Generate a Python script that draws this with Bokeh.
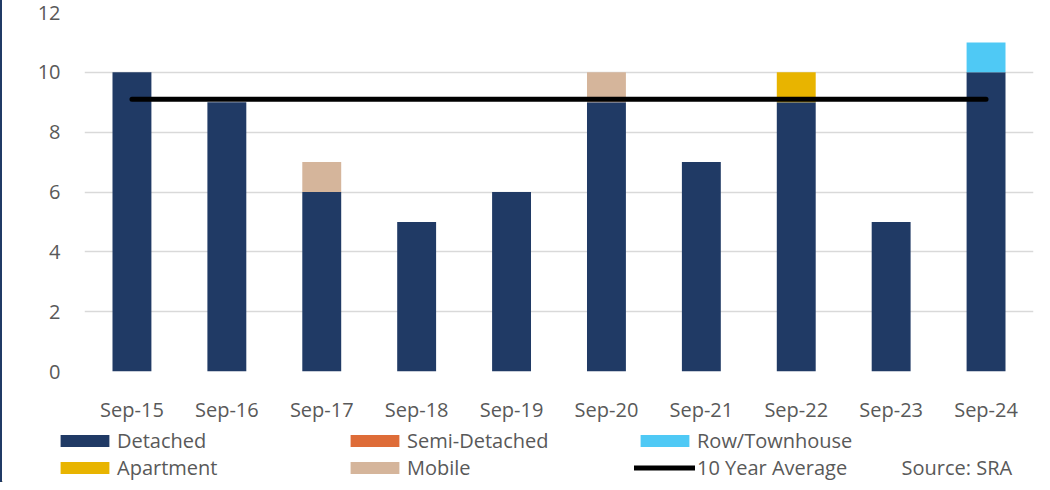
from bokeh.plotting import figure
from bokeh.models import Range1d, Legend, LegendItem, Label, FactorRange
from bokeh.layouts import column
from bokeh.embed import file_html
from bokeh.resources import INLINE

categories = ["Sep-15", "Sep-16", "Sep-17", "Sep-18", "Sep-19",
              "Sep-20", "Sep-21", "Sep-22", "Sep-23", "Sep-24"]
detached = [10, 9, 6, 5, 6, 9, 7, 9, 5, 10]
semi_detached = [0, 0, 0, 0, 0, 0, 0, 0, 0, 0]
row_townhouse = [0, 0, 0, 0, 0, 0, 0, 0, 0, 1]
apartment = [0, 0, 0, 0, 0, 0, 0, 1, 0, 0]
mobile = [0, 0, 1, 0, 0, 1, 0, 0, 0, 0]
ten_year_average = [9.1] * len(categories)
y_ticks = [0, 2, 4, 6, 8, 10, 12]

series = ["Detached", "Semi-Detached", "Row/Townhouse", "Apartment", "Mobile"]
colors = ["#203A65", "#DE6C38", "#4FC9F5", "#E8B400", "#D5B59B"]
avg_label = "10 Year Average"
source_note = "Source: SRA"

data = {"cat": categories, "Detached": detached, "Semi-Detached": semi_detached,
        "Row/Townhouse": row_townhouse, "Apartment": apartment, "Mobile": mobile,
        "avg": ten_year_average}

FONT = "Open Sans"
TXT = "#595959"
W = 1040

# ---- main chart ----
p = figure(width=W, height=425, x_range=FactorRange(*categories),
           y_range=Range1d(0, 12), output_backend="svg", toolbar_location=None,
           min_border_left=82, min_border_right=W - 1031, min_border_top=12,
           min_border_bottom=45, frame_align=False)
p.outline_line_color = None

bars = p.vbar_stack(series, x="cat", width=0.41, color=colors, source=data,
                    line_color=None)
avg = p.line(x="cat", y="avg", source=data, line_color="black", line_width=5,
             line_cap="round")

p.xgrid.grid_line_color = None
p.ygrid.grid_line_color = "#D9D9D9"
p.ygrid.grid_line_width = 1.5
p.yaxis.ticker = y_ticks

for ax in (p.xaxis, p.yaxis):
    ax.axis_line_color = None
    ax.major_tick_line_color = None
    ax.minor_tick_line_color = None
    ax.major_label_text_font = FONT
    ax.major_label_text_font_size = "20px"
    ax.major_label_text_color = TXT
p.yaxis.major_label_standoff = 18
p.xaxis.major_label_standoff = 18

# ---- legend strip (swatch renderers sit off-screen, only their legend shows) ----
H2 = 57
lg = figure(width=W, height=H2, x_range=Range1d(0, W), y_range=Range1d(0, H2),
            output_backend="svg", toolbar_location=None,
            x_axis_location=None, y_axis_location=None, min_border=0,
            frame_align=False)
lg.outline_line_color = None
lg.grid.grid_line_color = None

lrs = [lg.vbar(x=[-500], top=[1], width=1, color=c, line_color=None) for c in colors]
lline = lg.line(x=[-500, -499], y=[1, 1], line_color="black", line_width=5,
                line_cap="round")

items = [LegendItem(label=s, renderers=[r]) for s, r in zip(series, lrs)]
items.append(LegendItem(label=avg_label, renderers=[lline]))
legend = Legend(items=items, orientation="horizontal", ncols=3,
                location=(52, 1), glyph_width=61, glyph_height=15,
                label_standoff=2, label_width=227, label_height=26, spacing=0,
                padding=0, margin=0, border_line_color=None,
                background_fill_alpha=0, label_text_font=FONT,
                label_text_font_size="20px", label_text_color=TXT)
lg.add_layout(legend)

lg.add_layout(Label(x=899, y=15, text=source_note, text_font=FONT,
                    text_font_size="20px", text_color=TXT,
                    text_baseline="middle"))

layout = column(p, lg, spacing=0, styles={"border-left": "2px solid #203A65"})

open("out.html", "w").write(file_html(layout, INLINE))
